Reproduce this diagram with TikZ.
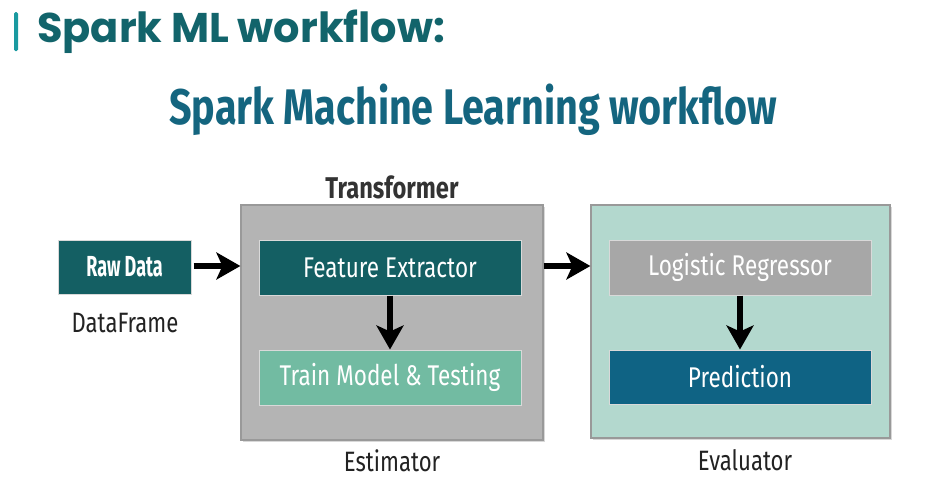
\documentclass[tikz,border=0pt]{standalone}
\usepackage{fontspec}
\setmainfont{Fira Sans}
\newfontfamily\headfont{Poppins}
\newfontfamily\condfont[FakeStretch=0.79]{Fira Sans}
\newfontfamily\boldcond[FakeStretch=0.62]{Fira Sans}
\usetikzlibrary{arrows.meta,shadows}
\definecolor{headteal}{HTML}{12646B}
\definecolor{barteal}{HTML}{1A9AA0}
\definecolor{subblue}{HTML}{14657F}
\definecolor{darkteal}{HTML}{145F63}
\definecolor{lightgreen}{HTML}{72BBA2}
\definecolor{boxgray}{HTML}{B4B4B4}
\definecolor{boxgreen}{HTML}{B3D8CE}
\definecolor{inngray}{HTML}{A7A7A7}
\definecolor{predblue}{HTML}{0F6384}
\definecolor{labtext}{HTML}{222222}
\tikzset{
  container/.style={draw=black!40, line width=1.2pt, drop shadow={shadow xshift=1.5pt, shadow yshift=-1.5pt, opacity=0.3}},
  inner/.style={draw=white!85!black, line width=1pt, text=white, font=\condfont\fontsize{28.5}{32}\selectfont, inner sep=0pt},
  flowarrow/.style={-{Stealth[length=24pt,width=27pt,inset=6pt]}, line width=6pt, black},
  lab/.style={font=\condfont\fontsize{28}{32}\selectfont, text=labtext}
}
\begin{document}
\begin{tikzpicture}[x=1pt,y=-1pt]
\useasboundingbox (0,0) rectangle (940,501);
\fill[white] (0,0) rectangle (940,501);
% header
\fill[barteal, rounded corners=1.5pt] (14,12) rectangle (18,51);
\node[anchor=west, inner sep=0pt, text=headteal, font=\headfont\bfseries\fontsize{41.5}{46}\selectfont] (head) at (37,32) {Spark ML workflow:};
% subtitle
\node[inner sep=0pt, text=subblue, font=\condfont\bfseries\fontsize{50}{56}\selectfont] (sub) at (473,110) {Spark Machine Learning workflow};
% containers
\node[container, fill=boxgray, minimum width=302pt, minimum height=235pt, inner sep=0pt] (tbox) at (392,322.5) {};
\node[container, fill=boxgreen, minimum width=299pt, minimum height=233pt, inner sep=0pt] (ebox) at (740.5,321.5) {};
% inner boxes
\node[inner, fill=darkteal, minimum width=262pt, minimum height=55pt] (fe) at (390,267.5) {Feature Extractor};
\node[inner, fill=lightgreen, minimum width=262pt, minimum height=55pt] (tm) at (390,377.5) {Train Model \& Testing};
\node[inner, fill=inngray, minimum width=262pt, minimum height=55pt] (lr) at (740,267.5) {Logistic Regressor};
\node[inner, fill=predblue, minimum width=262pt, minimum height=54pt] (pr) at (740,377) {Prediction};
\node[inner, fill=darkteal, minimum width=133pt, minimum height=54pt, font=\boldcond\bfseries\fontsize{29}{32}\selectfont] (raw) at (124.5,267) {Raw Data};
% labels
\node[lab] (df) at (125,323) {DataFrame};
\node[lab, font=\condfont\bfseries\fontsize{30}{34}\selectfont, text=black!80] (tr) at (392,187) {Transformer};
\node[lab] (es) at (392,461) {Estimator};
\node[lab] (ev) at (745,460) {Evaluator};
% arrows
\coordinate (a1) at (193,266);
\draw[flowarrow] ([xshift=2pt]raw.east |- a1) -- (tbox.west |- a1);
\draw[flowarrow] (tbox.east |- a1) -- (ebox.west |- a1);
\draw[flowarrow] (fe.south) -- (tm.north);
\draw[flowarrow] (lr.south) -- (pr.north);
\end{tikzpicture}
\end{document}
